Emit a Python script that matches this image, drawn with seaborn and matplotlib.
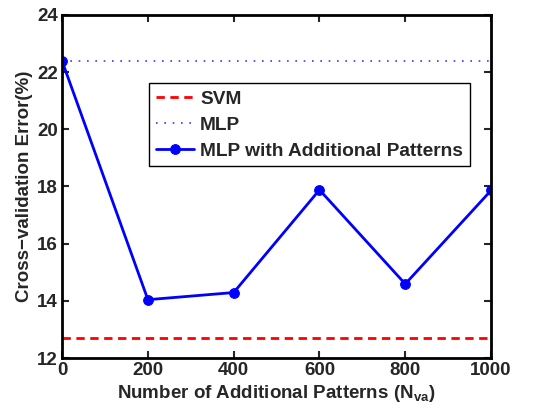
import matplotlib
matplotlib.use("Agg")
import matplotlib.pyplot as plt
import seaborn as sns
import pandas as pd

# data
n_va = [0, 200, 400, 600, 800, 1000]
mlp_add = [22.38, 14.04, 14.29, 17.88, 14.59, 17.86]
svm_err = 12.70
mlp_err = 22.38
x_range = [0, 1000]

sns.set_style("ticks")
plt.rcParams["font.family"] = ["Liberation Sans", "DejaVu Sans"]
plt.rcParams["font.weight"] = "bold"
plt.rcParams["mathtext.fontset"] = "custom"
plt.rcParams["mathtext.rm"] = "Liberation Sans:bold"
plt.rcParams["mathtext.bf"] = "Liberation Sans:bold"
plt.rcParams["mathtext.it"] = "Liberation Sans:bold"

fig = plt.figure(figsize=(5.45, 4.12), dpi=100)
ax = fig.add_axes([0.114, 0.131, 0.787, 0.833])

df_svm = pd.DataFrame({"x": x_range, "y": [svm_err, svm_err]})
df_mlp = pd.DataFrame({"x": x_range, "y": [mlp_err, mlp_err]})
df_add = pd.DataFrame({"x": n_va, "y": mlp_add})

sns.lineplot(data=df_svm, x="x", y="y", ax=ax, color="#ff0000", lw=2,
             linestyle=(0, (3, 2)), label="SVM")
sns.lineplot(data=df_mlp, x="x", y="y", ax=ax, color="#3a3aff", lw=1.2,
             linestyle=(0, (1, 4)), label="MLP")
sns.lineplot(data=df_add, x="x", y="y", ax=ax, color="#0000ff", lw=2,
             marker="o", markersize=7, markeredgecolor="#0000ff",
             label="MLP with Additional Patterns")

ax.set_xlim(0, 1000)
ax.set_ylim(12, 24)
ax.set_xticks(range(0, 1001, 200))
ax.set_yticks(range(12, 25, 2))
ax.tick_params(direction="in", top=True, right=True, length=5, width=1.5,
               labelsize=13.5, pad=3)
for lab in ax.get_xticklabels() + ax.get_yticklabels():
    lab.set_fontweight("bold")
for sp in ax.spines.values():
    sp.set_linewidth(2)
    sp.set_color("black")

ax.set_xlabel(r"Number of Additional Patterns (N$_{\mathrm{va}}$)",
              fontsize=13.5, fontweight="bold", labelpad=3)
ax.set_ylabel("Cross\u2212validation Error(%)", fontsize=13.5,
              fontweight="bold", labelpad=3)

leg = ax.legend(loc="upper left", bbox_to_anchor=(0.203, 0.80),
                frameon=True, fancybox=False, framealpha=1,
                prop={"weight": "bold", "size": 13.8}, handlelength=2.0,
                handletextpad=0.3, borderpad=0.35, labelspacing=0.45,
                borderaxespad=0)
leg.get_frame().set_edgecolor("black")
leg.get_frame().set_linewidth(1)

fig.savefig("out.png", dpi=100)
